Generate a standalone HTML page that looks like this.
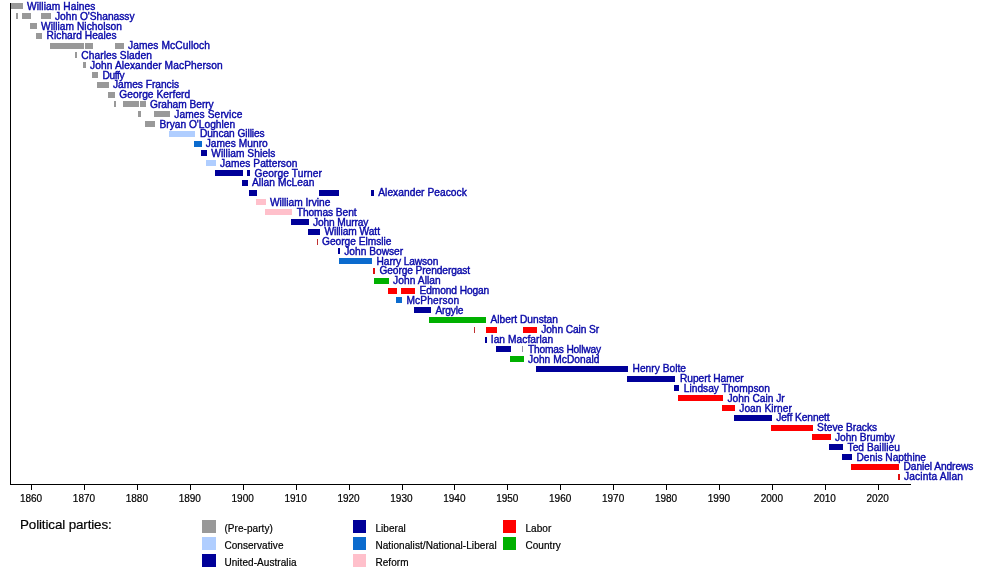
<!DOCTYPE html>
<html><head><meta charset="utf-8"><title>Premiers of Victoria timeline</title>
<style>
html,body{margin:0;padding:0;background:#fff;}
body{width:1000px;height:573px;position:relative;overflow:hidden;font-family:"Liberation Sans",sans-serif;}
svg{position:absolute;left:0;top:0;}
#tx{position:absolute;left:0;top:0;width:1000px;height:573px;will-change:transform;}
.l{position:absolute;white-space:nowrap;font-size:10.2px;line-height:12px;color:#0808a8;-webkit-text-stroke:0.4px #0808a8;}
.t{position:absolute;width:30px;text-align:center;font-size:10px;line-height:10px;color:#000;-webkit-text-stroke:0.2px #000;}
.g{position:absolute;white-space:nowrap;font-size:10px;line-height:10px;color:#000;letter-spacing:0.065px;-webkit-text-stroke:0.2px #000;}
.h{position:absolute;left:20px;top:518px;font-size:13.4px;line-height:14px;color:#000;-webkit-text-stroke:0.2px #000;white-space:nowrap;letter-spacing:-0.12px;}
</style></head><body>
<svg width="1000" height="573" viewBox="0 0 1000 573">
<rect x="10" y="3" width="7" height="6" fill="#999999"/>
<rect x="17" y="3" width="6" height="6" fill="#999999"/>
<rect x="16" y="13" width="2" height="6" fill="#999999"/>
<rect x="22" y="13" width="9" height="6" fill="#999999"/>
<rect x="41" y="13" width="10" height="6" fill="#999999"/>
<rect x="30" y="23" width="7" height="6" fill="#999999"/>
<rect x="36" y="33" width="6" height="6" fill="#999999"/>
<rect x="50" y="43" width="26" height="6" fill="#999999"/>
<rect x="76" y="43" width="8" height="6" fill="#999999"/>
<rect x="85" y="43" width="8" height="6" fill="#999999"/>
<rect x="115" y="43" width="9" height="6" fill="#999999"/>
<rect x="75" y="52" width="2" height="6" fill="#999999"/>
<rect x="83" y="62" width="3" height="6" fill="#999999"/>
<rect x="92" y="72" width="6" height="6" fill="#999999"/>
<rect x="97" y="82" width="12" height="6" fill="#999999"/>
<rect x="108" y="92" width="7" height="6" fill="#999999"/>
<rect x="114" y="101" width="2" height="6" fill="#999999"/>
<rect x="123" y="101" width="16" height="6" fill="#999999"/>
<rect x="140" y="101" width="6" height="6" fill="#999999"/>
<rect x="138" y="111" width="3" height="6" fill="#999999"/>
<rect x="154" y="111" width="16" height="6" fill="#999999"/>
<rect x="145" y="121" width="10" height="6" fill="#999999"/>
<rect x="169" y="131" width="26" height="6" fill="#b0ceff"/>
<rect x="194" y="141" width="8" height="6" fill="#0b6bce"/>
<rect x="201" y="150" width="6" height="6" fill="#000099"/>
<rect x="206" y="160" width="10" height="6" fill="#b0ceff"/>
<rect x="215" y="170" width="28" height="6" fill="#000099"/>
<rect x="247" y="170" width="3" height="6" fill="#000099"/>
<rect x="242" y="180" width="6" height="6" fill="#000099"/>
<rect x="249" y="190" width="8" height="6" fill="#000099"/>
<rect x="319" y="190" width="20" height="6" fill="#000099"/>
<rect x="371" y="190" width="3" height="6" fill="#000099"/>
<rect x="256" y="199" width="10" height="6" fill="#ffc0cb"/>
<rect x="265" y="209" width="27" height="6" fill="#ffc0cb"/>
<rect x="291" y="219" width="18" height="6" fill="#000099"/>
<rect x="308" y="229" width="10" height="6" fill="#000099"/>
<rect x="317" y="229" width="3" height="6" fill="#000099"/>
<rect x="317" y="239" width="1" height="6" fill="#c03030"/>
<rect x="338" y="248" width="2" height="6" fill="#000099"/>
<rect x="339" y="258" width="33" height="6" fill="#0b6bce"/>
<rect x="373" y="268" width="2" height="6" fill="#e01010"/>
<rect x="374" y="278" width="15" height="6" fill="#00b000"/>
<rect x="388" y="288" width="9" height="6" fill="#ff0000"/>
<rect x="401" y="288" width="14" height="6" fill="#ff0000"/>
<rect x="396" y="297" width="6" height="6" fill="#0b6bce"/>
<rect x="414" y="307" width="17" height="6" fill="#000099"/>
<rect x="429" y="317" width="46" height="6" fill="#00b000"/>
<rect x="474" y="317" width="12" height="6" fill="#00b000"/>
<rect x="474" y="327" width="1" height="6" fill="#c03030"/>
<rect x="486" y="327" width="11" height="6" fill="#ff0000"/>
<rect x="523" y="327" width="14" height="6" fill="#ff0000"/>
<rect x="485" y="337" width="2" height="6" fill="#000099"/>
<rect x="496" y="346" width="15" height="6" fill="#000099"/>
<rect x="522" y="346" width="1" height="6" fill="#9a96a8"/>
<rect x="510" y="356" width="13" height="6" fill="#00b000"/>
<rect x="522" y="356" width="2" height="6" fill="#00b000"/>
<rect x="536" y="366" width="92" height="6" fill="#000099"/>
<rect x="627" y="376" width="48" height="6" fill="#000099"/>
<rect x="674" y="385" width="5" height="6" fill="#000099"/>
<rect x="678" y="395" width="45" height="6" fill="#ff0000"/>
<rect x="722" y="405" width="13" height="6" fill="#ff0000"/>
<rect x="734" y="415" width="38" height="6" fill="#000099"/>
<rect x="771" y="425" width="42" height="6" fill="#ff0000"/>
<rect x="812" y="434" width="19" height="6" fill="#ff0000"/>
<rect x="829" y="444" width="14" height="6" fill="#000099"/>
<rect x="842" y="454" width="10" height="6" fill="#000099"/>
<rect x="851" y="464" width="48" height="6" fill="#ff0000"/>
<rect x="898" y="474" width="2" height="6" fill="#e01010"/>
<line x1="10.5" y1="3" x2="10.5" y2="485" stroke="#000" stroke-width="1"/>
<line x1="10" y1="484.5" x2="911" y2="484.5" stroke="#000" stroke-width="1"/>
<line x1="31.5" y1="485" x2="31.5" y2="490" stroke="#000" stroke-width="1"/>
<line x1="84.5" y1="485" x2="84.5" y2="490" stroke="#000" stroke-width="1"/>
<line x1="137.5" y1="485" x2="137.5" y2="490" stroke="#000" stroke-width="1"/>
<line x1="190.5" y1="485" x2="190.5" y2="490" stroke="#000" stroke-width="1"/>
<line x1="243.5" y1="485" x2="243.5" y2="490" stroke="#000" stroke-width="1"/>
<line x1="296.5" y1="485" x2="296.5" y2="490" stroke="#000" stroke-width="1"/>
<line x1="349.5" y1="485" x2="349.5" y2="490" stroke="#000" stroke-width="1"/>
<line x1="402.5" y1="485" x2="402.5" y2="490" stroke="#000" stroke-width="1"/>
<line x1="454.5" y1="485" x2="454.5" y2="490" stroke="#000" stroke-width="1"/>
<line x1="507.5" y1="485" x2="507.5" y2="490" stroke="#000" stroke-width="1"/>
<line x1="560.5" y1="485" x2="560.5" y2="490" stroke="#000" stroke-width="1"/>
<line x1="613.5" y1="485" x2="613.5" y2="490" stroke="#000" stroke-width="1"/>
<line x1="666.5" y1="485" x2="666.5" y2="490" stroke="#000" stroke-width="1"/>
<line x1="719.5" y1="485" x2="719.5" y2="490" stroke="#000" stroke-width="1"/>
<line x1="772.5" y1="485" x2="772.5" y2="490" stroke="#000" stroke-width="1"/>
<line x1="825.5" y1="485" x2="825.5" y2="490" stroke="#000" stroke-width="1"/>
<line x1="878.5" y1="485" x2="878.5" y2="490" stroke="#000" stroke-width="1"/>
<rect x="202" y="520" width="14" height="13" fill="#999999"/>
<rect x="202" y="537" width="14" height="13" fill="#b0ceff"/>
<rect x="202" y="554" width="14" height="13" fill="#000099"/>
<rect x="353" y="520" width="13" height="13" fill="#000099"/>
<rect x="353" y="537" width="13" height="13" fill="#0b6bce"/>
<rect x="353" y="554" width="13" height="13" fill="#ffc0cb"/>
<rect x="503" y="520" width="13" height="13" fill="#ff0000"/>
<rect x="503" y="537" width="13" height="13" fill="#00b000"/>
</svg>
<div id="tx">
<div class="l" style="left:27.00px;top:1px;letter-spacing:0.077px">William Haines</div>
<div class="l" style="left:55.00px;top:11px">John O'Shanassy</div>
<div class="l" style="left:41.00px;top:21px;letter-spacing:0.037px">William Nicholson</div>
<div class="l" style="left:46.60px;top:30px;letter-spacing:0.031px">Richard Heales</div>
<div class="l" style="left:128.00px;top:40px;letter-spacing:0.107px">James McCulloch</div>
<div class="l" style="left:81.25px;top:50px;letter-spacing:0.077px">Charles Sladen</div>
<div class="l" style="left:90.00px;top:60px;letter-spacing:0.104px">John Alexander MacPherson</div>
<div class="l" style="left:102.50px;top:70px;letter-spacing:-0.375px">Duffy</div>
<div class="l" style="left:113.00px;top:79px;letter-spacing:-0.021px">James Francis</div>
<div class="l" style="left:119.25px;top:89px;letter-spacing:0.058px">George Kerferd</div>
<div class="l" style="left:150.00px;top:99px;letter-spacing:-0.023px">Graham Berry</div>
<div class="l" style="left:174.25px;top:109px;letter-spacing:0.104px">James Service</div>
<div class="l" style="left:159.50px;top:119px">Bryan O'Loghlen</div>
<div class="l" style="left:200.00px;top:128px;letter-spacing:-0.077px">Duncan Gillies</div>
<div class="l" style="left:205.75px;top:138px;letter-spacing:0.025px">James Munro</div>
<div class="l" style="left:211.25px;top:148px;letter-spacing:0.058px">William Shiels</div>
<div class="l" style="left:220.00px;top:158px;letter-spacing:0.071px">James Patterson</div>
<div class="l" style="left:254.50px;top:168px;letter-spacing:0.104px">George Turner</div>
<div class="l" style="left:252.00px;top:177px;letter-spacing:0.068px">Allan McLean</div>
<div class="l" style="left:378.25px;top:187px;letter-spacing:0.047px">Alexander Peacock</div>
<div class="l" style="left:270.00px;top:197px;letter-spacing:-0.019px">William Irvine</div>
<div class="l" style="left:296.75px;top:207px;letter-spacing:-0.075px">Thomas Bent</div>
<div class="l" style="left:313.10px;top:217px;letter-spacing:-0.135px">John Murray</div>
<div class="l" style="left:324.40px;top:226px;letter-spacing:-0.059px">William Watt</div>
<div class="l" style="left:322.00px;top:236px;letter-spacing:-0.019px">George Elmslie</div>
<div class="l" style="left:344.25px;top:246px">John Bowser</div>
<div class="l" style="left:376.60px;top:256px;letter-spacing:-0.100px">Harry Lawson</div>
<div class="l" style="left:379.40px;top:265px;letter-spacing:-0.088px">George Prendergast</div>
<div class="l" style="left:393.10px;top:275px;letter-spacing:0.067px">John Allan</div>
<div class="l" style="left:419.60px;top:285px;letter-spacing:-0.100px">Edmond Hogan</div>
<div class="l" style="left:406.40px;top:295px;letter-spacing:0.169px">McPherson</div>
<div class="l" style="left:435.40px;top:305px;letter-spacing:-0.160px">Argyle</div>
<div class="l" style="left:490.50px;top:314px">Albert Dunstan</div>
<div class="l" style="left:541.25px;top:324px;letter-spacing:-0.091px">John Cain Sr</div>
<div class="l" style="left:490.75px;top:334px;letter-spacing:0.062px">Ian Macfarlan</div>
<div class="l" style="left:528.00px;top:344px;letter-spacing:-0.173px">Thomas Hollway</div>
<div class="l" style="left:528.00px;top:354px;letter-spacing:0.062px">John McDonald</div>
<div class="l" style="left:632.50px;top:363px;letter-spacing:0.025px">Henry Bolte</div>
<div class="l" style="left:680.00px;top:373px;letter-spacing:-0.023px">Rupert Hamer</div>
<div class="l" style="left:683.75px;top:383px;letter-spacing:0.017px">Lindsay Thompson</div>
<div class="l" style="left:727.50px;top:393px">John Cain Jr</div>
<div class="l" style="left:739.25px;top:403px;letter-spacing:0.050px">Joan Kirner</div>
<div class="l" style="left:776.25px;top:412px;letter-spacing:-0.068px">Jeff Kennett</div>
<div class="l" style="left:817.10px;top:422px">Steve Bracks</div>
<div class="l" style="left:834.90px;top:432px">John Brumby</div>
<div class="l" style="left:847.60px;top:442px;letter-spacing:0.009px">Ted Baillieu</div>
<div class="l" style="left:856.50px;top:452px;letter-spacing:-0.015px">Denis Napthine</div>
<div class="l" style="left:903.50px;top:461px;letter-spacing:-0.069px">Daniel Andrews</div>
<div class="l" style="left:904.00px;top:471px;letter-spacing:0.150px">Jacinta Allan</div>
<div class="t" style="left:16.04px;top:494px">1860</div>
<div class="t" style="left:68.96px;top:494px">1870</div>
<div class="t" style="left:121.87px;top:494px">1880</div>
<div class="t" style="left:174.79px;top:494px">1890</div>
<div class="t" style="left:227.70px;top:494px">1900</div>
<div class="t" style="left:280.62px;top:494px">1910</div>
<div class="t" style="left:333.53px;top:494px">1920</div>
<div class="t" style="left:386.45px;top:494px">1930</div>
<div class="t" style="left:439.36px;top:494px">1940</div>
<div class="t" style="left:492.28px;top:494px">1950</div>
<div class="t" style="left:545.19px;top:494px">1960</div>
<div class="t" style="left:598.11px;top:494px">1970</div>
<div class="t" style="left:651.02px;top:494px">1980</div>
<div class="t" style="left:703.94px;top:494px">1990</div>
<div class="t" style="left:756.85px;top:494px">2000</div>
<div class="t" style="left:809.77px;top:494px">2010</div>
<div class="t" style="left:862.68px;top:494px">2020</div>
<div class="h">Political parties:</div>
<div class="g" style="left:224.4px;top:524px">(Pre-party)</div>
<div class="g" style="left:224.4px;top:541px">Conservative</div>
<div class="g" style="left:224.4px;top:558px">United-Australia</div>
<div class="g" style="left:375.4px;top:524px">Liberal</div>
<div class="g" style="left:375.4px;top:541px">Nationalist/National-Liberal</div>
<div class="g" style="left:375.4px;top:558px">Reform</div>
<div class="g" style="left:525.4px;top:524px">Labor</div>
<div class="g" style="left:525.4px;top:541px">Country</div>
</div>
</body></html>
